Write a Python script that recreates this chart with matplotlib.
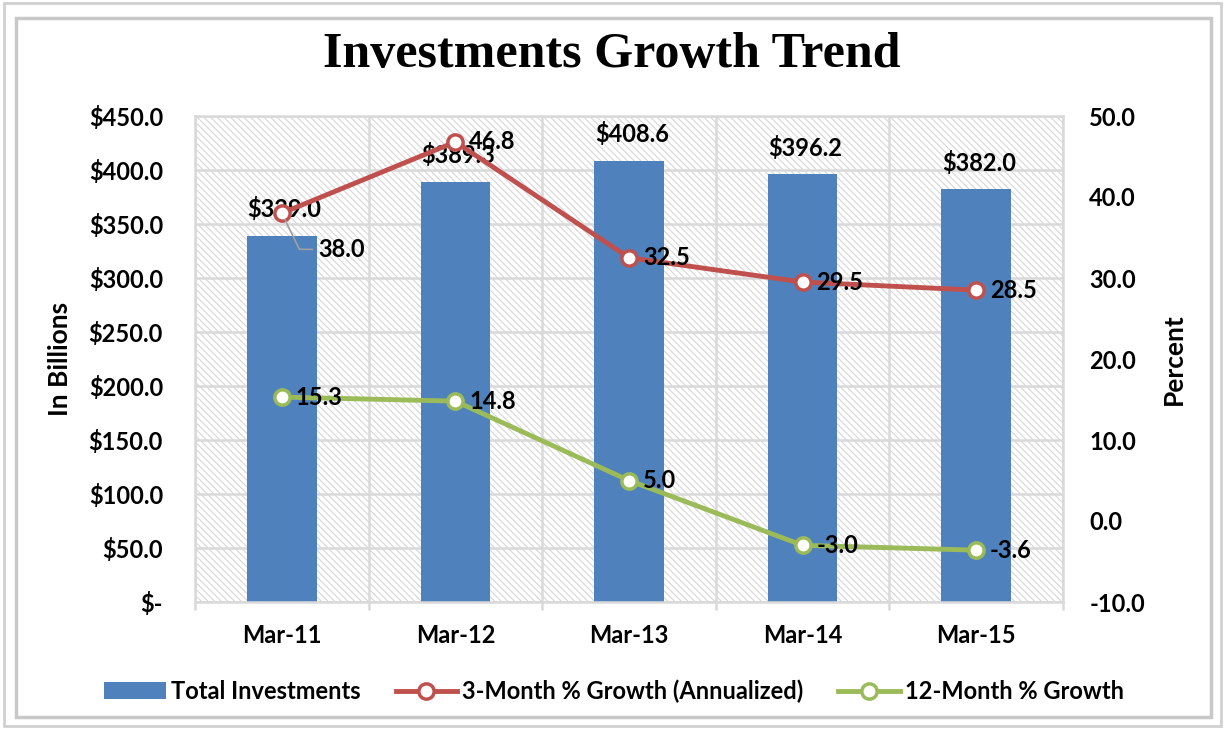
import numpy as np
import matplotlib
matplotlib.use("Agg")
import matplotlib.pyplot as plt
from matplotlib.patches import Rectangle, Patch
from matplotlib.lines import Line2D

# data
periods = ["Mar-11", "Mar-12", "Mar-13", "Mar-14", "Mar-15"]
total_inv = [339.0, 389.3, 408.6, 396.2, 382.0]
growth_3m = [38.0, 46.8, 32.5, 29.5, 28.5]
growth_12m = [15.3, 14.8, 5.0, -3.0, -3.6]

BLUE = "#4F81BD"
RED = "#C0504D"
GREEN = "#9BBB59"
GRID = "#D9D9D9"
FS = 17

plt.rcParams['font.family'] = ['Lato', 'DejaVu Sans']
plt.rcParams['hatch.color'] = '#D6D6D6'
plt.rcParams['hatch.linewidth'] = 0.8

fig = plt.figure(figsize=(12.25, 7.29), dpi=100)
ax = fig.add_axes([195/1225, 1-602/729, (1063-195)/1225, (602-116)/729])
ax2 = ax.twinx()

# frame around the chart
fig.patches.append(Rectangle((0.003, 0.004), 0.994, 0.992, transform=fig.transFigure,
                             fill=False, edgecolor='#D0D0D0', lw=2))
fig.patches.append(Rectangle((16/1225, 1-717/729), (1211-16)/1225, (717-18)/729,
                             transform=fig.transFigure, fill=False, edgecolor='#C8C8C8', lw=2.5))

# hatched plot area
ax.patch.set_facecolor('white')
ax.patch.set_hatch('\\\\\\\\\\')
ax.patch.set_edgecolor('#D6D6D6')

x = np.arange(len(periods))
ax.bar(x, total_inv, width=0.4, color=BLUE, zorder=2)
ax.set_xlim(-0.5, len(periods) - 0.5)
ax.set_ylim(0, 450)
ax.set_yticks(np.arange(0, 451, 50))
ax.set_yticklabels(["$-"] + ["${:.1f}".format(v) for v in np.arange(50, 451, 50)])
ax.set_xticks(x)
ax.set_xticklabels(periods)
ax.set_xticks(np.arange(-0.5, len(periods)), minor=True)
ax.grid(True, which='major', axis='y', color=GRID, lw=1.8, zorder=1)
ax.grid(True, which='minor', axis='x', color=GRID, lw=1.8, zorder=1)
ax.set_axisbelow(True)
ax.tick_params(axis='x', which='major', length=0, pad=16, labelsize=FS)
ax.tick_params(axis='x', which='minor', length=6, color=GRID, width=1.8)
ax.tick_params(axis='y', length=0, pad=23, labelsize=FS)
for lab in ax.get_xticklabels() + ax.get_yticklabels():
    lab.set_fontweight('bold')
for s in ax.spines.values():
    s.set_color(GRID)
    s.set_linewidth(1.8)
for s in ax2.spines.values():
    s.set_visible(False)
ax.set_ylabel("In Billions", fontsize=19, fontweight='bold', labelpad=12)

for xi, v in zip(x, total_inv):
    ax.annotate("${:.1f}".format(v), (xi, v), xytext=(2, 19), textcoords='offset points',
                ha='center', va='center', fontsize=FS, fontweight='bold', zorder=5)

# percent lines on the right axis
ax2.set_ylim(-10, 50)
ax2.set_yticks(np.arange(-10, 51, 10))
ax2.set_yticklabels(["{:.1f}".format(v) for v in np.arange(-10, 51, 10)])
ax2.tick_params(axis='y', length=0, pad=19, labelsize=FS)
for lab in ax2.get_yticklabels():
    lab.set_fontweight('bold')
ax2.set_ylabel("Percent", fontsize=19, fontweight='bold', labelpad=12)

mk = dict(marker='o', markersize=11, markerfacecolor='white', markeredgewidth=2.5, lw=3.5)
ax2.plot(x, growth_3m, color=RED, **mk)
ax2.plot(x, growth_12m, color=GREEN, **mk)

for i, (xi, v) in enumerate(zip(x, growth_3m)):
    if i == 0:
        ax2.annotate("{:.1f}".format(v), (xi, v), xytext=(26, -26), textcoords='offset points',
                     ha='left', va='center', fontsize=FS, fontweight='bold',
                     arrowprops=dict(arrowstyle='-', color='#A0A0A0', lw=1.2, shrinkA=2, shrinkB=5,
                                     relpos=(0, 0.5),
                                     connectionstyle='angle,angleA=0,angleB=-64,rad=0'))
    else:
        ax2.annotate("{:.1f}".format(v), (xi, v), xytext=(10, 0), textcoords='offset points',
                     ha='left', va='center', fontsize=FS, fontweight='bold')
for xi, v in zip(x, growth_12m):
    ax2.annotate("{:.1f}".format(v), (xi, v), xytext=(10, 0), textcoords='offset points',
                 ha='left', va='center', fontsize=FS, fontweight='bold')

fig.text(612/1225, 1-55/729, "Investments Growth Trend", ha='center', va='center',
         fontsize=36, fontweight='bold', family=['Liberation Serif', 'DejaVu Serif'])

handles = [Patch(facecolor=BLUE),
           Line2D([], [], color=RED, **mk),
           Line2D([], [], color=GREEN, **mk)]
labels = ["Total Investments", "3-Month % Growth (Annualized)", "12-Month % Growth"]
fig.legend(handles, labels, loc='center', bbox_to_anchor=(614/1225, 1-691/729), ncol=3,
           frameon=False, prop=dict(size=FS, weight='bold'), handlelength=2.6,
           columnspacing=1.5, handletextpad=0.2)

fig.savefig("out.png", dpi=100)
